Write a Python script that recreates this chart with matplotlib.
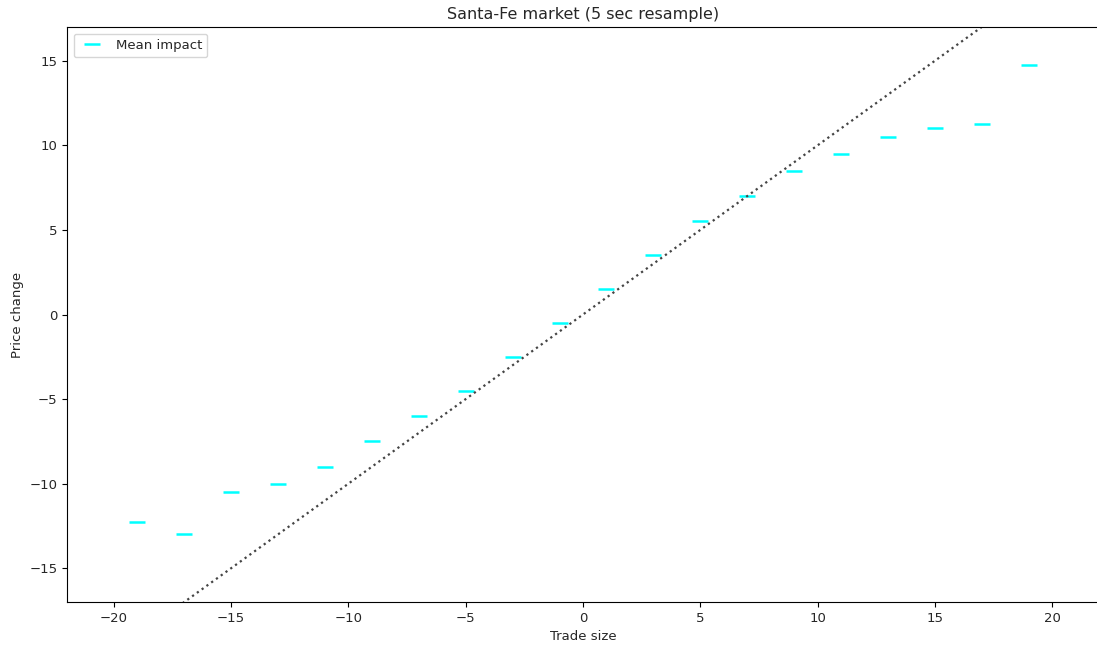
import matplotlib
matplotlib.use("Agg")
import matplotlib.pyplot as plt

# Mean price impact per trade-size bin
trade_size = [-19, -17, -15, -13, -11, -9, -7, -5, -3, -1,
              1, 3, 5, 7, 9, 11, 13, 15, 17, 19]
mean_impact = [-12.25, -13.0, -10.5, -10.0, -9.0, -7.5, -6.0, -4.5, -2.5, -0.5,
               1.5, 3.5, 5.5, 7.0, 8.5, 9.5, 10.5, 11.0, 11.25, 14.75]
diag = [-25, 25]

plt.rcParams["font.size"] = 9.5
plt.rcParams["text.color"] = "#262626"
plt.rcParams["xtick.labelcolor"] = "#262626"
plt.rcParams["ytick.labelcolor"] = "#262626"
plt.rcParams["axes.labelcolor"] = "#262626"

fig = plt.figure(figsize=(10.97, 6.47), dpi=100)
ax = fig.add_axes([67 / 1097, 45 / 647, 1032 / 1097, 575 / 647])

ax.plot(trade_size, mean_impact, "_", color="cyan", markersize=12,
        markeredgewidth=1.8, label="Mean impact")
ax.plot(diag, diag, ":", color="#444444", linewidth=1.6)

ax.set_xlim(-22, 22)
ax.set_ylim(-17, 17)
ax.set_xlabel("Trade size")
ax.set_ylabel("Price change")
ax.set_title("Santa-Fe market (5 sec resample)", fontsize=11.5)
ax.legend(loc="upper left")

fig.savefig("out.png", dpi=100)
plt.close(fig)
